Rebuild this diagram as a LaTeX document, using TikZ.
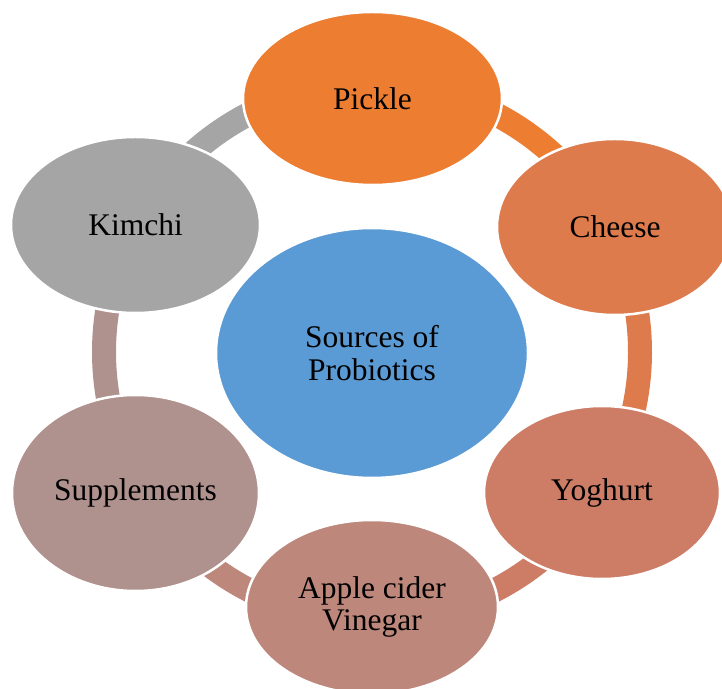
\documentclass[tikz,border=0pt]{standalone}
\usepackage{fontspec}
\setmainfont{Liberation Serif}
\usetikzlibrary{shapes.geometric}
\definecolor{cpickle}{HTML}{ED7D31}
\definecolor{ccheese}{HTML}{DE7B4D}
\definecolor{cyog}{HTML}{CD7C66}
\definecolor{capple}{HTML}{BD877B}
\definecolor{csupp}{HTML}{AF918E}
\definecolor{ckim}{HTML}{A5A5A5}
\definecolor{ccenter}{HTML}{5B9BD5}
\tikzset{
  blob/.style={ellipse, draw=white, line width=2.5pt, inner sep=0pt, align=center,
    font=\fontsize{31.5}{32.5}\selectfont, text=black},
  ringseg/.style={line width=24pt, line cap=butt}
}
\begin{document}
\begin{tikzpicture}[x=1pt,y=1pt]
\useasboundingbox (0,0) rectangle (722,688);
\fill[white] (0,0) rectangle (722,688);
\coordinate (ring) at (372,336);
% ring segments
\draw[ringseg, cpickle] (ring) ++(64:268pt) arc[start angle=64, end angle=45.5, radius=268pt];
\draw[ringseg, ccheese] (ring) ++(11:268pt) arc[start angle=11, end angle=-14.5, radius=268pt];
\draw[ringseg, cyog] (ring) ++(-51:268pt) arc[start angle=-51, end angle=-65, radius=268pt];
\draw[ringseg, capple] (ring) ++(-115:268pt) arc[start angle=-115, end angle=-128, radius=268pt];
\draw[ringseg, csupp] (ring) ++(192.5:268pt) arc[start angle=192.5, end angle=168.5, radius=268pt];
\draw[ringseg, ckim] (ring) ++(132.5:268pt) arc[start angle=132.5, end angle=115.5, radius=268pt];
% nodes
\node[blob, fill=ccenter, minimum width=312pt, minimum height=250pt] (center) at (372,335) {Sources of\\Probiotics};
\node[blob, fill=cpickle, minimum width=259pt, minimum height=173pt] (pickle) at (372.5,589.5) {Pickle};
\node[blob, fill=ccheese, minimum width=236pt, minimum height=176pt] (cheese) at (615,461) {Cheese};
\node[blob, fill=cyog, minimum width=236pt, minimum height=173pt] (yog) at (602,195.5) {Yoghurt};
\node[blob, fill=capple, minimum width=252pt, minimum height=174pt] (apple) at (372,81) {Apple cider\\Vinegar};
\node[blob, fill=csupp, minimum width=247pt, minimum height=196pt] (supp) at (135.5,195) {Supplements};
\node[blob, fill=ckim, minimum width=249pt, minimum height=176pt] (kim) at (135.5,463) {Kimchi};
\end{tikzpicture}
\end{document}
